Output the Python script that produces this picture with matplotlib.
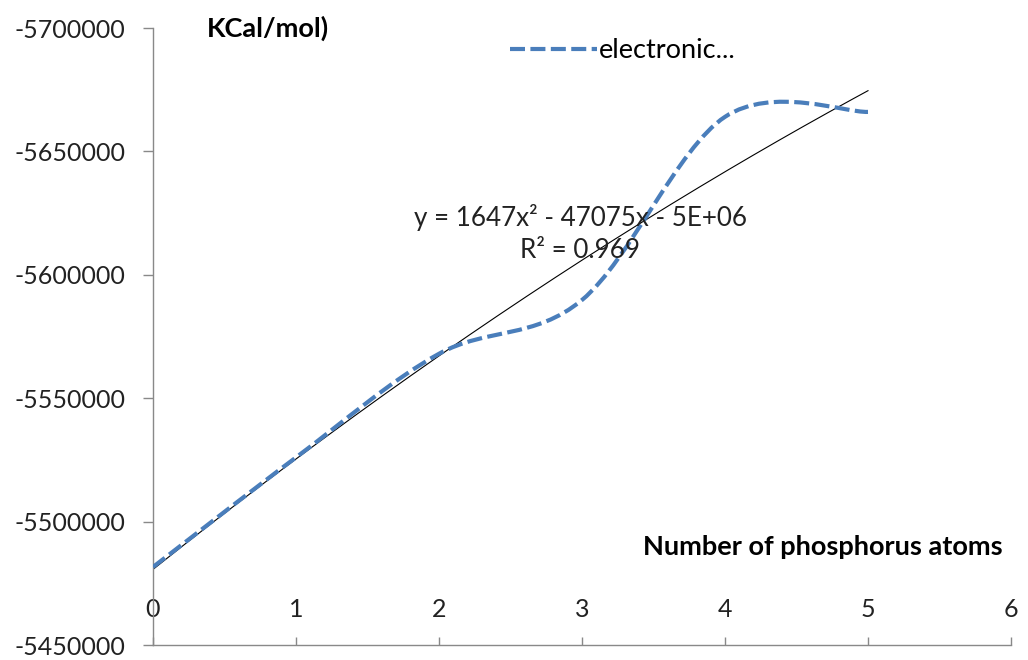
import numpy as np
import matplotlib
import matplotlib.pyplot as plt
from matplotlib.path import Path
from matplotlib.patches import PathPatch
from matplotlib.lines import Line2D

matplotlib.use("Agg")

atoms = [0, 1, 2, 3, 4, 5]
energy = [-5481600, -5526000, -5568000, -5589800, -5664000, -5666000]
x_ticks = [0, 1, 2, 3, 4, 5, 6]
y_ticks = [-5700000, -5650000, -5600000, -5550000, -5500000, -5450000]
series_name = "electronic..."
y_label = "KCal/mol)"
x_label = "Number of phosphorus atoms"
fit_text = "y = 1647x\u00b2 - 47075x - 5E+06\nR\u00b2 = 0.969"

BLUE = "#4a7ebb"
GREY = "#898989"


def smooth_path(xs, ys):
    """
    Description: build an Excel-like smoothed line (cubic bezier pieces).
    """
    pts = np.column_stack([xs, ys]).astype(float)
    n = len(pts)
    verts = [pts[0]]
    codes = [Path.MOVETO]
    for i in range(n - 1):
        p_prev = pts[max(i - 1, 0)]
        p_next = pts[min(i + 2, n - 1)]
        c1 = pts[i] + (pts[i + 1] - p_prev) / 6
        c2 = pts[i + 1] - (p_next - pts[i]) / 6
        verts += [c1, c2, pts[i + 1]]
        codes += [Path.CURVE4] * 3
    return Path(verts, codes)


def main():
    plt.rcParams["font.family"] = ["Lato", "DejaVu Sans"]
    fig = plt.figure(figsize=(10.28, 6.6), dpi=100)
    ax = fig.add_axes([153 / 1028, 1 - 645 / 660, 858 / 1028, 617 / 660])

    dash = (0, (3.6, 1.3))
    patch = PathPatch(smooth_path(atoms, energy), facecolor="none",
                      edgecolor=BLUE, lw=3, linestyle=dash, zorder=3)
    ax.add_patch(patch)

    coeffs = np.polyfit(atoms, energy, 2)
    xs = np.linspace(atoms[0], atoms[-1], 200)
    ax.plot(xs, np.polyval(coeffs, xs), color="black", lw=0.8, zorder=2)

    ax.set_xlim(0, 6)
    ax.set_ylim(-5450000, -5700000)
    ax.set_xticks(x_ticks)
    ax.set_yticks(y_ticks)
    ax.set_yticklabels([str(v) for v in y_ticks])

    for side in ["top", "right"]:
        ax.spines[side].set_visible(False)
    for side in ["left", "bottom"]:
        ax.spines[side].set_color(GREY)
        ax.spines[side].set_linewidth(1.0)
    ax.tick_params(axis="y", direction="out", length=7, width=1,
                   color=GREY, labelsize=18, pad=13, labelcolor="#222222")
    ax.tick_params(axis="x", direction="in", length=6, width=1,
                   color=GREY, labelsize=18, pad=-34, labelcolor="#222222")

    handle = Line2D([], [], color=BLUE, lw=3, linestyle=dash)
    ax.legend([handle], [series_name], loc="center left",
              bbox_to_anchor=((510 - 153) / 858, (645 - 51) / 617),
              frameon=False, fontsize=19.5, handlelength=3.2,
              handletextpad=0.08, borderpad=0, borderaxespad=0)

    ax.text(0.498, 0.667, fit_text, transform=ax.transAxes, ha="center",
            va="center", fontsize=18.7, linespacing=1.35, color="#222222")

    fig.text(207 / 1028, 1 - 28 / 660, y_label, fontsize=19.5,
             fontweight="bold", va="center", ha="left")
    fig.text(1003 / 1028, 1 - 547 / 660, x_label, fontsize=19.5,
             fontweight="bold", va="center", ha="right")

    fig.savefig("out.png", dpi=100)
    return 0


if __name__ == "__main__":
    main()
